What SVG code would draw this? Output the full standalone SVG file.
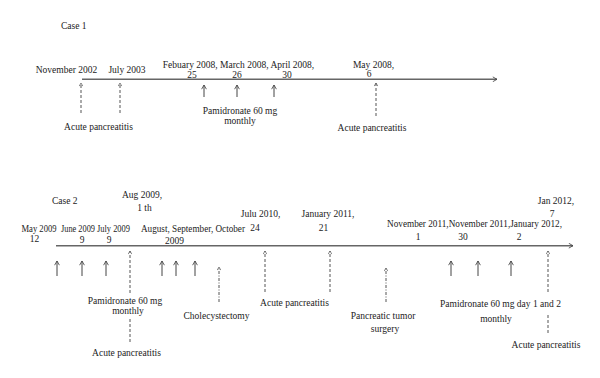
<svg xmlns="http://www.w3.org/2000/svg" width="600" height="378" viewBox="0 0 600 378">
<defs>
<style>
text{font-family:"Liberation Serif","Times New Roman",serif;font-size:9.5px;fill:#222;text-anchor:middle}
.st{text-anchor:start}
.axis{stroke:#666;stroke-width:1.4;fill:none}
.sol{stroke:#444;stroke-width:1;fill:none}
.dsh{stroke:#555;stroke-width:1;fill:none;stroke-dasharray:3,2}
.dd{stroke:#555;stroke-width:1;fill:none;stroke-dasharray:3,1.5,1,1.5}
</style>
<marker id="ah" viewBox="0 0 10 10" refX="9" refY="5" markerWidth="6" markerHeight="6" markerUnits="userSpaceOnUse" orient="auto">
<path d="M2,1 L9,5 L2,9" fill="none" stroke="#444" stroke-width="1.4"/>
</marker>
<marker id="ahs" viewBox="0 0 10 10" refX="9" refY="5" markerWidth="4.5" markerHeight="4.5" markerUnits="userSpaceOnUse" orient="auto">
<path d="M2,1 L9,5 L2,9" fill="none" stroke="#555" stroke-width="1.6"/>
</marker>
</defs>
<rect width="600" height="378" fill="#fff"/>

<g id="connectors">
<line class="axis" x1="82" y1="79.3" x2="497" y2="79.3" marker-end="url(#ah)"/>
<line class="axis" x1="56" y1="245.7" x2="573" y2="245.7" marker-end="url(#ah)"/>
</g>

<!-- Case 1 -->
<g id="case1-title"><text class="st" x="61" y="28.5">Case 1</text></g>
<g id="c1-nov2002">
<text x="66.5" y="72.5">November 2002</text>
<line class="dsh" x1="81" y1="113" x2="81" y2="83" marker-end="url(#ahs)"/>
</g>
<g id="c1-jul2003">
<text x="127" y="72.5">July 2003</text>
<line class="dsh" x1="120" y1="113" x2="120" y2="83" marker-end="url(#ahs)"/>
</g>
<g id="c1-ap1"><text x="98.5" y="129.5">Acute pancreatitis</text></g>
<g id="c1-pamidronate">
<text x="238.5" y="68">Febuary 2008, March 2008, April 2008,</text>
<text x="192" y="77.5">25</text>
<text x="237" y="77.5">26</text>
<text x="287" y="77.5">30</text>
<line class="sol" x1="204" y1="97" x2="204" y2="85" marker-end="url(#ah)"/>
<line class="sol" x1="237" y1="97" x2="237" y2="85" marker-end="url(#ah)"/>
<line class="sol" x1="274" y1="97" x2="274" y2="85" marker-end="url(#ah)"/>
<text x="240" y="113.5">Pamidronate 60 mg</text>
<text x="240" y="124">monthly</text>
</g>
<g id="c1-may2008">
<text x="373.5" y="67.5">May 2008,</text>
<text x="369" y="77">6</text>
<line class="dsh" x1="376" y1="116" x2="376" y2="83" marker-end="url(#ahs)"/>
<text x="372" y="131">Acute pancreatitis</text>
</g>

<!-- Case 2 -->
<g id="case2-title"><text class="st" x="52" y="203.5">Case 2</text></g>
<g id="c2-may2009">
<text x="39" y="231.5" textLength="35" lengthAdjust="spacingAndGlyphs">May 2009</text>
<text x="34.5" y="241.5">12</text>
<line class="sol" x1="57" y1="276" x2="57" y2="261" marker-end="url(#ah)"/>
</g>
<g id="c2-jun2009">
<text x="78" y="231.5" textLength="34" lengthAdjust="spacingAndGlyphs">June 2009</text>
<text x="82" y="242.5">9</text>
<line class="sol" x1="82" y1="276" x2="82" y2="261" marker-end="url(#ah)"/>
</g>
<g id="c2-jul2009">
<text x="113.5" y="231.5" textLength="33" lengthAdjust="spacingAndGlyphs">July 2009</text>
<text x="109" y="242.5">9</text>
<line class="sol" x1="106" y1="276" x2="106" y2="261" marker-end="url(#ah)"/>
</g>
<g id="c2-aug2009">
<text x="142" y="197.5">Aug 2009,</text>
<text x="144.5" y="210.5">1 th</text>
<line class="dsh" x1="130" y1="293" x2="130" y2="251" marker-end="url(#ahs)"/>
<text x="125" y="304">Pamidronate 60 mg</text>
<text x="128" y="313.5">monthly</text>
<line class="dsh" x1="130" y1="319" x2="130" y2="343"/>
<text x="126.5" y="355.5">Acute pancreatitis</text>
</g>
<g id="c2-aug-oct2009">
<text x="193" y="231.5" textLength="104" lengthAdjust="spacingAndGlyphs">August, September, October</text>
<text x="174.5" y="243.5">2009</text>
<line class="sol" x1="162" y1="276" x2="162" y2="261" marker-end="url(#ah)"/>
<line class="sol" x1="176" y1="276" x2="176" y2="261" marker-end="url(#ah)"/>
<line class="sol" x1="195" y1="276" x2="195" y2="261" marker-end="url(#ah)"/>
</g>
<g id="c2-cholecystectomy">
<line class="dd" x1="219" y1="302" x2="219" y2="267" marker-end="url(#ahs)"/>
<text x="216.5" y="318.5">Cholecystectomy</text>
</g>
<g id="c2-jul2010">
<text x="260.5" y="216.5">Julu 2010,</text>
<text x="255" y="230.5">24</text>
<line class="dsh" x1="265" y1="292" x2="265" y2="251" marker-end="url(#ahs)"/>
<text x="294.5" y="305.5">Acute pancreatitis</text>
</g>
<g id="c2-jan2011">
<text x="328" y="216.5">January 2011,</text>
<text x="323.5" y="230.5">21</text>
<line class="dsh" x1="330" y1="292" x2="330" y2="251" marker-end="url(#ahs)"/>
</g>
<g id="c2-tumor">
<line class="dd" x1="386" y1="302" x2="386" y2="268" marker-end="url(#ahs)"/>
<text x="383" y="318.5">Pancreatic tumor</text>
<text x="385" y="331.5">surgery</text>
</g>
<g id="c2-nov2011-jan2012">
<text x="474.5" y="226.5" textLength="175" lengthAdjust="spacingAndGlyphs">November 2011,November 2011,January 2012,</text>
<text x="418" y="240">1</text>
<text x="463" y="240">30</text>
<text x="519" y="240">2</text>
<line class="sol" x1="451" y1="276" x2="451" y2="261" marker-end="url(#ah)"/>
<line class="sol" x1="478" y1="276" x2="478" y2="261" marker-end="url(#ah)"/>
<line class="sol" x1="511" y1="276" x2="511" y2="261" marker-end="url(#ah)"/>
<text x="500.5" y="306.5">Pamidronate 60 mg day 1 and 2</text>
<text x="496" y="321.5">monthly</text>
</g>
<g id="c2-jan2012">
<text x="556" y="203.5">Jan 2012,</text>
<text x="552" y="216.5">7</text>
<line class="dsh" x1="548" y1="292" x2="548" y2="251" marker-end="url(#ahs)"/>
<line class="dsh" x1="548" y1="315" x2="548" y2="335"/>
<text x="546" y="347.5">Acute pancreatitis</text>
</g>
</svg>
